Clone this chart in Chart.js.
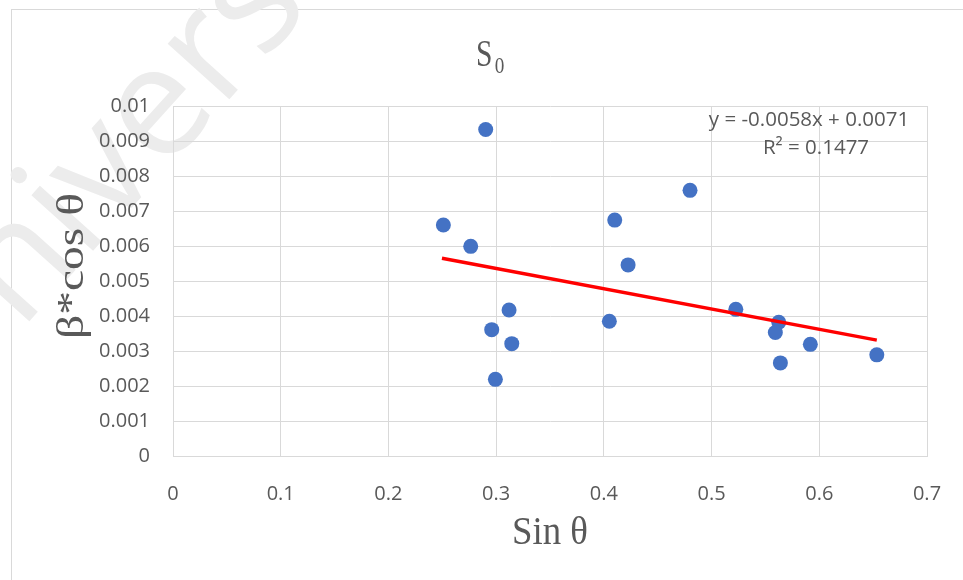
<!DOCTYPE html>
<html>
<head>
<meta charset="utf-8">
<script src="https://cdn.jsdelivr.net/npm/chart.js@4/dist/chart.umd.min.js"></script>
<style>
  html, body { margin: 0; padding: 0; background: #fff; }
  #wrap { width: 963px; height: 580px; position: relative; }
</style>
</head>
<body>
<div id="wrap"><canvas id="chart" width="963" height="580"></canvas></div>
<script>
// values
const sinTheta = [0.251, 0.2764, 0.2903, 0.2959, 0.2993, 0.312, 0.3145, 0.4051, 0.4101, 0.4225,
                  0.480, 0.5225, 0.5624, 0.5592, 0.5917, 0.5639, 0.6534];
const betaCos = [0.0066, 0.00599, 0.00933, 0.00361, 0.00219, 0.00417, 0.00321, 0.00385, 0.00674, 0.00546,
                 0.00759, 0.00419, 0.00382, 0.00353, 0.00319, 0.00266, 0.00289];
// trendline end points (as shown in the chart)
const trendX = [0.2497, 0.6534];
const trendY = [0.00565, 0.00331];
const xTickLabels = ['0', '0.1', '0.2', '0.3', '0.4', '0.5', '0.6', '0.7'];
const yTickLabels = ['0', '0.001', '0.002', '0.003', '0.004', '0.005', '0.006', '0.007', '0.008', '0.009', '0.01'];
const equation = 'y = -0.0058x + 0.0071';
const rSquared = 'R² = 0.1477';

const textGrey = '#595959';
const gridGrey = '#d9d9d9';

const points = sinTheta.map((x, i) => ({ x: x, y: betaCos[i] }));
const trend = trendX.map((x, i) => ({ x: x, y: trendY[i] }));

// frame + watermark behind, titles and equation on top
const decor = {
    id: 'decor',
    beforeDraw(chart) {
        const c = chart.ctx;
        c.save();
        c.fillStyle = '#fff';
        c.fillRect(0, 0, chart.width, chart.height);
        c.strokeStyle = gridGrey;
        c.lineWidth = 1;
        c.strokeRect(11.5, 9.5, 1000, 600);
        // watermark
        c.translate(-55, 415);
        c.rotate(-48 * Math.PI / 180);
        c.fillStyle = '#ececec';
        c.font = '155px "Open Sans"';
        c.textBaseline = 'alphabetic';
        c.fillText('University', 0, 0);
        c.restore();
    },
    afterDraw(chart) {
        const c = chart.ctx;
        c.save();
        c.fillStyle = textGrey;
        c.textBaseline = 'alphabetic';

        // title S with subscript 0
        c.save();
        c.translate(476, 66);
        c.scale(0.8, 1);
        c.font = '37px "Liberation Serif"';
        c.textAlign = 'left';
        c.fillText('S', 0, 0);
        const sw = c.measureText('S').width;
        c.font = '24px "Liberation Serif"';
        c.fillText('0', sw + 3, 7);
        c.restore();

        // x axis title
        c.save();
        c.translate(550, 544);
        c.scale(0.92, 1);
        c.font = '40px "Liberation Serif"';
        c.textAlign = 'center';
        c.fillText('Sin θ', 0, 0);
        c.restore();

        // y axis title
        c.save();
        c.translate(83, 266);
        c.rotate(-Math.PI / 2);
        c.scale(1.25, 1);
        c.font = '38px "Liberation Serif"';
        c.textAlign = 'center';
        c.fillText('β*cos θ', 0, 0);
        c.restore();

        // trendline label
        c.font = '20.5px "Open Sans"';
        c.textAlign = 'center';
        c.fillText(equation, 809, 126);
        c.fillText(rSquared, 816, 154);
        c.restore();
    }
};

new Chart(document.getElementById('chart'), {
    type: 'scatter',
    data: {
        datasets: [{
            label: 'data',
            data: points,
            backgroundColor: '#4472C4',
            borderColor: '#4472C4',
            borderWidth: 0,
            pointRadius: 7.5,
            pointHoverRadius: 7.5,
            order: 2
        }, {
            label: 'trend',
            data: trend,
            showLine: true,
            borderColor: '#ff0000',
            borderWidth: 3.5,
            pointRadius: 0,
            fill: false,
            order: 1
        }]
    },
    options: {
        responsive: false,
        animation: false,
        events: [],
        layout: { padding: { top: 106, right: 36, bottom: 0, left: 0 } },
        plugins: {
            legend: { display: false },
            tooltip: { enabled: false },
            title: { display: false }
        },
        scales: {
            x: {
                type: 'linear',
                min: 0,
                max: 0.7,
                afterFit: s => { s.height = 124; s.paddingLeft = 0; s.paddingRight = 0; },
                afterBuildTicks: s => { s.ticks = xTickLabels.map(v => ({ value: Number(v) })); },
                grid: { color: gridGrey, lineWidth: 1, drawTicks: false },
                border: { color: gridGrey },
                ticks: {
                    padding: 26,
                    color: textGrey,
                    font: { family: '"Open Sans"', size: 20 },
                    callback: (v, i) => xTickLabels[i]
                }
            },
            y: {
                type: 'linear',
                min: 0,
                max: 0.01,
                afterFit: s => { s.width = 173; s.paddingTop = 0; s.paddingBottom = 0; },
                afterBuildTicks: s => { s.ticks = yTickLabels.map(v => ({ value: Number(v) })); },
                grid: { color: gridGrey, lineWidth: 1, drawTicks: false },
                border: { color: gridGrey },
                ticks: {
                    padding: 23,
                    color: textGrey,
                    font: { family: '"Open Sans"', size: 20 },
                    callback: (v, i) => yTickLabels[i]
                }
            }
        }
    },
    plugins: [decor]
});
</script>
</body>
</html>
